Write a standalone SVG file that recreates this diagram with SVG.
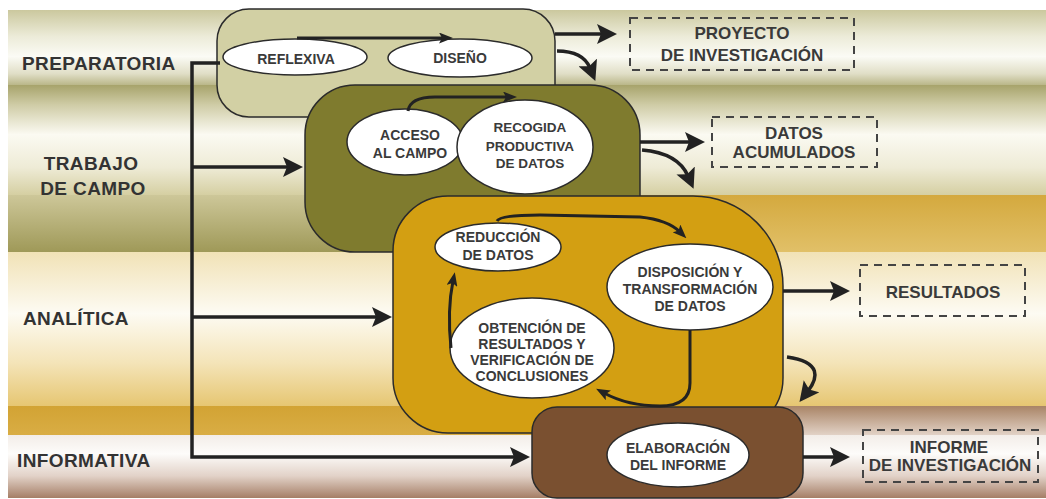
<svg xmlns="http://www.w3.org/2000/svg" width="1046" height="499" viewBox="0 0 1046 499">
<style>
.lbl{font-family:"Liberation Sans",Arial,sans-serif;font-weight:bold;fill:#333;font-size:19px;letter-spacing:0.4px}
.el{font-family:"Liberation Sans",Arial,sans-serif;font-weight:bold;fill:#3a3a3a;font-size:14px;text-anchor:middle}
.bx{font-family:"Liberation Sans",Arial,sans-serif;font-weight:bold;fill:#3a3a3a;font-size:17px;text-anchor:middle}
.oval{fill:#ffffff;stroke:#2b2b2b;stroke-width:1.5}
.node{stroke:#2b2b2b;stroke-width:1.5}
.dash{fill:none;stroke:#444;stroke-width:2;stroke-dasharray:8 6}
.ln{fill:none;stroke:#222;stroke-width:3.5}
.lns{fill:none;stroke:#222;stroke-width:3}
</style>
<defs>
<marker id="big" markerUnits="userSpaceOnUse" viewBox="0 0 20 20" markerWidth="20" markerHeight="20" refX="6" refY="10" orient="auto"><path d="M0,0 L20,10 L0,20 L4,10 z" fill="#222"/></marker>
<marker id="sm" markerUnits="userSpaceOnUse" viewBox="0 0 14 11" markerWidth="14" markerHeight="11" refX="5" refY="5.5" orient="auto"><path d="M0,0 L14,5.5 L0,11 L3,5.5 z" fill="#222"/></marker>
<linearGradient id="gP" x1="0" y1="0" x2="0" y2="1"><stop offset="0" stop-color="#cbc89e"/><stop offset="0.35" stop-color="#ecebd8"/><stop offset="0.62" stop-color="#fbfbf5"/><stop offset="0.85" stop-color="#e0dec6"/><stop offset="1" stop-color="#bab789"/></linearGradient>
<linearGradient id="gT" x1="0" y1="0" x2="0" y2="1"><stop offset="0" stop-color="#a7a36b"/><stop offset="0.18" stop-color="#cfcca6"/><stop offset="0.45" stop-color="#fbfaf2"/><stop offset="0.75" stop-color="#eeebd6"/><stop offset="1" stop-color="#d5cfa2"/></linearGradient>
<linearGradient id="gS1L" x1="0" y1="0" x2="0" y2="1"><stop offset="0" stop-color="#cdc799"/><stop offset="1" stop-color="#9f9958"/></linearGradient>
<linearGradient id="gS1R" x1="0" y1="0" x2="0" y2="1"><stop offset="0" stop-color="#d4a93e"/><stop offset="1" stop-color="#e1c068"/></linearGradient>
<linearGradient id="gA" x1="0" y1="0" x2="0" y2="1"><stop offset="0" stop-color="#f1e2b6"/><stop offset="0.4" stop-color="#fdfbf3"/><stop offset="0.72" stop-color="#f4e4b8"/><stop offset="1" stop-color="#e6c672"/></linearGradient>
<linearGradient id="gS2L" x1="0" y1="0" x2="0" y2="1"><stop offset="0" stop-color="#d2a334"/><stop offset="1" stop-color="#d9ad44"/></linearGradient>
<linearGradient id="gS2R" x1="0" y1="0" x2="0" y2="1"><stop offset="0" stop-color="#a98466"/><stop offset="1" stop-color="#e2d2c6"/></linearGradient>
<linearGradient id="gI" x1="0" y1="0" x2="0" y2="1"><stop offset="0" stop-color="#f3ede8"/><stop offset="0.3" stop-color="#fdfcfa"/><stop offset="0.65" stop-color="#e2d2c8"/><stop offset="1" stop-color="#a57e66"/></linearGradient>
</defs>
<g id="background">
<rect x="0" y="0" width="1046" height="499" fill="#ffffff"/>
<rect x="8" y="10" width="1038" height="75" fill="url(#gP)"/>
<rect x="8" y="85" width="1038" height="110" fill="url(#gT)"/>
<rect x="8" y="195" width="592" height="57" fill="url(#gS1L)"/>
<rect x="600" y="195" width="446" height="57" fill="url(#gS1R)"/>
<rect x="8" y="252" width="1038" height="154" fill="url(#gA)"/>
<rect x="8" y="406" width="592" height="29" fill="url(#gS2L)"/>
<rect x="600" y="406" width="446" height="29" fill="url(#gS2R)"/>
<rect x="8" y="435" width="1038" height="63" fill="url(#gI)"/>
</g>
<g id="phase-labels">
<text class="lbl" x="22" y="70">PREPARATORIA</text>
<text class="lbl" x="91" y="170" text-anchor="middle">TRABAJO</text>
<text class="lbl" x="93" y="195" text-anchor="middle">DE CAMPO</text>
<text class="lbl" x="23" y="325">ANALÍTICA</text>
<text class="lbl" x="17" y="467">INFORMATIVA</text>
</g>
<g id="node-preparatoria">
<rect class="node" x="217" y="9" width="338" height="108" rx="32" fill="#d2d0a4"/>
<ellipse class="oval" cx="295" cy="57" rx="72" ry="18"/>
<text class="el" x="296" y="64">REFLEXIVA</text>
<ellipse class="oval" cx="460" cy="58" rx="72" ry="19"/>
<text class="el" x="460" y="63">DISEÑO</text>
</g>
<g id="node-trabajo">
<rect class="node" x="305" y="85" width="335" height="167" rx="50" fill="#7f7b2e"/>
<ellipse class="oval" cx="405" cy="142" rx="58" ry="33"/>
<text class="el" x="410" y="140">ACCESO</text>
<text class="el" x="410" y="158">AL CAMPO</text>
<ellipse class="oval" cx="525" cy="147" rx="68" ry="47"/>
<text class="el" x="530" y="132" style="font-size:13.5px">RECOGIDA</text>
<text class="el" x="530" y="151" style="font-size:13.5px">PRODUCTIVA</text>
<text class="el" x="530" y="168" style="font-size:13.5px">DE DATOS</text>
</g>
<g id="node-analitica">
<path class="node" d="M448,196 H693 A90,90 0 0 1 783,286 V378 A55,55 0 0 1 728,433 H448 A55,55 0 0 1 393,378 V251 A55,55 0 0 1 448,196 Z" fill="#d39f12"/>
<ellipse class="oval" cx="498" cy="247" rx="63" ry="24"/>
<text class="el" x="498" y="242">REDUCCIÓN</text>
<text class="el" x="498" y="260">DE DATOS</text>
<ellipse class="oval" cx="690" cy="287" rx="83" ry="43"/>
<text class="el" x="690" y="277">DISPOSICIÓN Y</text>
<text class="el" x="690" y="294">TRANSFORMACIÓN</text>
<text class="el" x="690" y="311">DE DATOS</text>
<ellipse class="oval" cx="532" cy="348" rx="82" ry="50"/>
<text class="el" x="532" y="333">OBTENCIÓN DE</text>
<text class="el" x="532" y="349">RESULTADOS Y</text>
<text class="el" x="532" y="365">VERIFICACIÓN DE</text>
<text class="el" x="532" y="381">CONCLUSIONES</text>
</g>
<g id="node-informativa">
<rect class="node" x="532" y="407" width="271" height="91" rx="25" fill="#7a5030"/>
<ellipse class="oval" cx="678" cy="455" rx="71" ry="32"/>
<text class="el" x="678" y="453">ELABORACIÓN</text>
<text class="el" x="678" y="470">DEL INFORME</text>
</g>
<g id="output-proyecto">
<rect class="dash" x="630" y="18" width="224" height="52"/>
<text class="bx" x="742" y="39">PROYECTO</text>
<text class="bx" x="742" y="61">DE INVESTIGACIÓN</text>
</g>
<g id="output-datos">
<rect class="dash" x="712" y="117" width="165" height="50"/>
<text class="bx" x="794" y="139">DATOS</text>
<text class="bx" x="794" y="158">ACUMULADOS</text>
</g>
<g id="output-resultados">
<rect class="dash" x="860" y="265" width="165" height="51"/>
<text class="bx" x="943" y="298">RESULTADOS</text>
</g>
<g id="output-informe">
<rect class="dash" x="863" y="430" width="175" height="52"/>
<text class="bx" x="949" y="453">INFORME</text>
<text class="bx" x="950" y="471">DE INVESTIGACIÓN</text>
</g>
<g id="connectors">
<path class="ln" d="M220,63 H192 V457 H516" marker-end="url(#big)"/>
<path class="ln" d="M192,167 H289" marker-end="url(#big)"/>
<path class="ln" d="M192,317 H378" marker-end="url(#big)"/>
<path class="ln" d="M555,34 H603" marker-end="url(#big)"/>
<path class="ln" d="M557,51 Q583,51 590,68" marker-end="url(#big)"/>
<path class="ln" d="M640,142 H691" marker-end="url(#big)"/>
<path class="ln" d="M642,150 Q678,153 688,176" marker-end="url(#big)"/>
<path class="ln" d="M783,291 H836" marker-end="url(#big)"/>
<path class="ln" d="M787,357 C822,362 818,378 808,391" marker-end="url(#big)"/>
<path class="ln" d="M803,457 H836" marker-end="url(#big)"/>
<path class="lns" d="M297,38 H444" marker-end="url(#sm)"/>
<path class="lns" d="M408,111 Q410,97 435,97 H508" marker-end="url(#sm)"/>
<path class="lns" d="M497,221 Q500,215 540,215 L640,217 Q668,220 680,232" marker-end="url(#sm)"/>
<path class="lns" d="M690,330 V383 Q690,406 660,406 Q628,406 604,393" marker-end="url(#sm)"/>
<path class="lns" d="M451,348 Q447,310 453,281" marker-end="url(#sm)"/>
</g>
</svg>
